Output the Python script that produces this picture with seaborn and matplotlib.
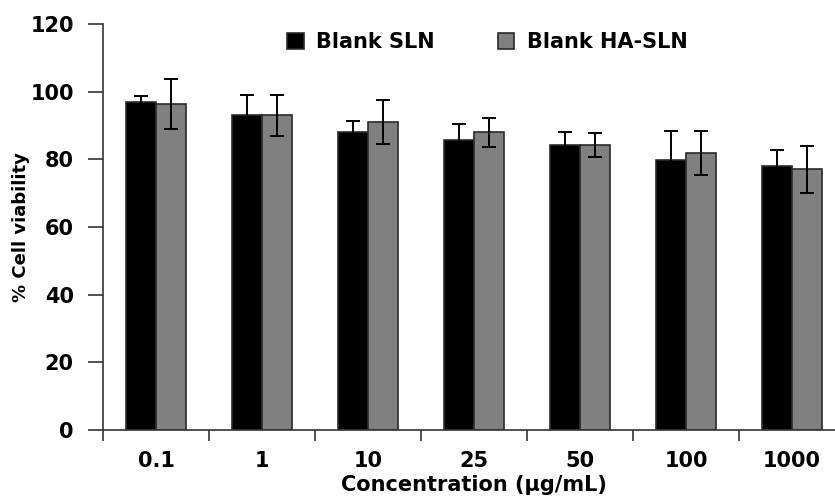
import matplotlib
matplotlib.use("Agg")
import matplotlib.pyplot as plt
import seaborn as sns
import pandas as pd
import numpy as np

concentrations = ["0.1", "1", "10", "25", "50", "100", "1000"]
series_names = ["Blank SLN", "Blank HA-SLN"]
sln_mean = [97.0, 93.1, 88.0, 85.6, 84.2, 79.9, 78.1]
sln_err = [1.6, 6.0, 3.4, 4.7, 3.8, 8.5, 4.7]
ha_mean = [96.4, 93.0, 91.0, 88.0, 84.2, 81.9, 77.0]
ha_err = [7.4, 6.0, 6.5, 4.3, 3.6, 6.4, 7.0]
yticks = [0, 20, 40, 60, 80, 100, 120]

sns.set_style("ticks")
plt.rcParams['font.family'] = ['DejaVu Sans']
plt.rcParams['font.weight'] = 'bold'
plt.rcParams['text.color'] = 'black'
plt.rcParams['axes.labelcolor'] = 'black'
plt.rcParams['xtick.labelcolor'] = 'black'
plt.rcParams['ytick.labelcolor'] = 'black'
FS = 15

df = pd.DataFrame({
    "conc": concentrations * 2,
    "series": [series_names[0]] * len(concentrations) + [series_names[1]] * len(concentrations),
    "val": sln_mean + ha_mean,
    "err": sln_err + ha_err,
})

fig = plt.figure(figsize=(8.35, 5.0), dpi=100)
ax = fig.add_axes([103/835, 1 - 430/500, (845 - 103)/835, (430 - 24)/500])

sns.barplot(data=df, x="conc", y="val", hue="series", order=concentrations,
            hue_order=series_names, palette=["#000000", "#808080"],
            width=0.57, gap=0, errorbar=None, edgecolor="#2a2a2a", linewidth=1.2,
            saturation=1, ax=ax)

# error bars at patch positions
for container, errs in zip(ax.containers, [sln_err, ha_err]):
    xs = [p.get_x() + p.get_width() / 2 for p in container.patches]
    hs = [p.get_height() for p in container.patches]
    ax.errorbar(xs, hs, yerr=errs, fmt="none", ecolor="#000000",
                elinewidth=1.4, capsize=5, capthick=1.4, zorder=3)

ax.set_ylim(0, 120)
ax.set_yticks(yticks)
ax.set_xlim(-0.5, len(concentrations) - 0.5)
ax.set_xticks(np.arange(len(concentrations)))
ax.set_xticklabels(concentrations)
ax.set_xticks(np.arange(len(concentrations)) - 0.5, minor=True)
ax.tick_params(axis="x", which="major", length=0, pad=15, labelsize=FS)
ax.tick_params(axis="x", which="minor", length=8, width=1.2, color="#333333", direction="out")
ax.tick_params(axis="y", length=11, width=1.2, color="#333333", labelsize=FS, pad=10)
for lab in ax.get_xticklabels() + ax.get_yticklabels():
    lab.set_fontweight("bold")

for s in ["top", "right"]:
    ax.spines[s].set_visible(False)
for s in ["left", "bottom"]:
    ax.spines[s].set_linewidth(1.2)
    ax.spines[s].set_color("#333333")

ax.set_xlabel("Concentration (µg/mL)", fontsize=FS, fontweight="bold", labelpad=3)
ax.set_ylabel("% Cell viability", fontsize=FS - 2, fontweight="bold", labelpad=0)

leg = ax.legend(loc="upper left", bbox_to_anchor=(176/742, 1.0), ncol=2, frameon=False,
                fontsize=FS, handlelength=0.8, handleheight=0.8, columnspacing=3.0,
                handletextpad=0.6, borderaxespad=0)
for t in leg.get_texts():
    t.set_fontweight("bold")
    t.set_color("black")

fig.savefig("out.png", dpi=100)
